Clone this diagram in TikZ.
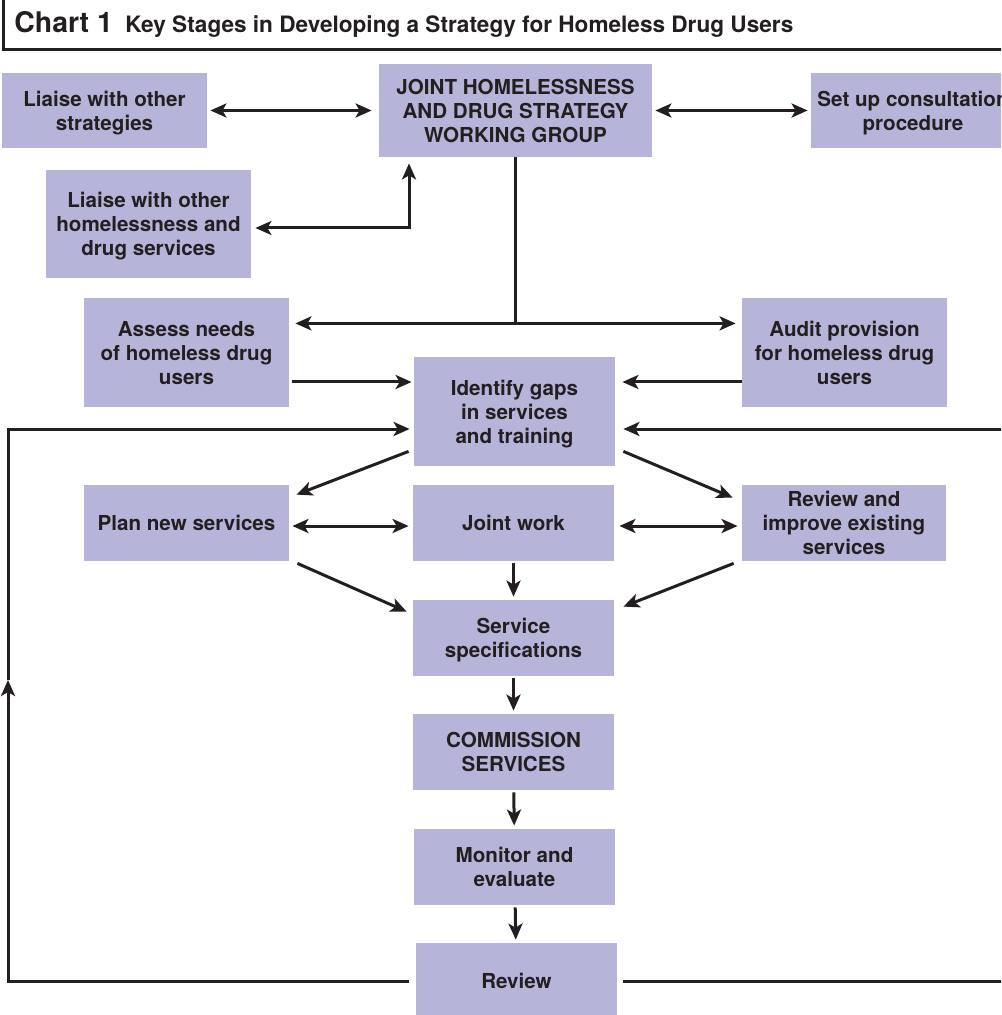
\documentclass[tikz,border=0pt]{standalone}
\usepackage{fontspec}
\setmainfont{TeX Gyre Heros}
\usetikzlibrary{arrows.meta,calc}

\definecolor{boxfill}{RGB}{182,181,217}
\definecolor{ink}{RGB}{35,31,32}

\tikzset{
	stage/.style 2 args={fill=boxfill, inner sep=0pt, align=center, text=ink,
		text depth=0pt, font=\fontsize{10.3}{12}\selectfont\bfseries,
		minimum width=#1*0.5pt, minimum height=#2*0.5pt},
	link/.style={draw=ink, line width=1.5pt},
	arr/.style={link, -{Stealth[length=8pt,width=7pt,inset=2pt]}},
	biarr/.style={link, {Stealth[length=8pt,width=7pt,inset=2pt]}-{Stealth[length=8pt,width=7pt,inset=2pt]}}
}

\begin{document}
\begin{tikzpicture}[x=0.5pt,y=-0.5pt]

\path[use as bounding box, clip] (0,0) rectangle (1001,1015);

% title bar
\draw[draw=ink, line width=1.5pt] (3,-5)--(3,50)--(1012,50);
\node[anchor=base west, inner sep=0pt, text=ink, font=\fontsize{14.2}{16}\selectfont\bfseries] (chart) at (14,33) {Chart 1};
\node[anchor=base west, inner sep=0pt, text=ink, font=\fontsize{11.3}{13}\selectfont\bfseries] (heading) at (125,33) {Key Stages in Developing a Strategy for Homeless Drug Users};

% stages
\node[stage={205}{75}] (strat) at (104.5,110.5) {Liaise with other\\strategies};
\node[stage={273}{93}] (jwg) at (515.5,110.5) {JOINT HOMELESSNESS\\AND DRUG STRATEGY\\WORKING GROUP};
\node[stage={204}{75}] (consult) at (913,110.5) {Set up consultation\\procedure};
\node[stage={205}{108}] (lsv) at (148.5,224) {Liaise with other\\homelessness and\\drug services};
\node[stage={205}{109}] (assess) at (186.5,352.5) {Assess needs\\of homeless drug\\users};
\node[stage={205}{109}] (audit) at (844.5,352.5) {Audit provision\\for homeless drug\\users};
\node[stage={201}{109}] (gaps) at (514.5,411.5) {Identify gaps\\in services\\and training};
\node[stage={205}{76}] (plan) at (186.5,523) {Plan new services};
\node[stage={201}{76}] (jointwork) at (513.5,523) {Joint work};
\node[stage={204}{76}] (improve) at (844,523) {Review and\\improve existing\\services};
\node[stage={201}{76}] (spec) at (513.5,638) {Service\\specifications};
\node[stage={201}{76}] (commission) at (513.5,752) {COMMISSION\\SERVICES};
\node[stage={201}{76}] (monitor) at (514.5,867) {Monitor and\\evaluate};
\node[stage={201}{76}] (review) at (516.5,981) {Review};

% top row
\draw[biarr, shorten <=1.5pt, shorten >=3.5pt] (strat) -- (jwg);
\draw[biarr, shorten <=1.5pt, shorten >=1.5pt] (jwg) -- (consult);
\draw[biarr, shorten <=3pt, shorten >=2pt] ($(jwg.south)+(-106.5,0)$) |- ($(lsv.east)+(0,4)$);

% split to assess and audit
\coordinate (split) at ($(jwg.south)+(0,166)$);
\draw[link] (jwg) -- (split);
\draw[arr, shorten >=3pt] (split) -- (split -| assess.east);
\draw[arr, shorten >=3pt] (split) -- (split -| audit.west);

\draw[arr] ($(assess.east)+(3,29.5)$) -- ($(gaps.west)+(-2,-29.5)$);
\draw[arr] ($(audit.west)+(0,29.5)$) -- ($(gaps.east)+(7,-29.5)$);

% middle
\draw[arr] ($(gaps.south west)+(-5,-15)$) -- ($(plan.north east)+(7,10)$);
\draw[arr] ($(gaps.south east)+(8,-15)$) -- ($(improve.north west)+(-9,13)$);
\draw[biarr] ($(plan.east)+(3,3)$) -- ($(jointwork.west)+(-4,3)$);
\draw[biarr] ($(jointwork.east)+(5,3)$) -- ($(improve.west)+(-4,3)$);
\draw[arr] ($(plan.south east)+(8,2)$) -- ($(spec.north west)+(-6,12)$);
\draw[arr] ($(improve.south west)+(-8,2)$) -- ($(spec.north east)+(9,7)$);

\foreach \a/\b in {jointwork/spec, spec/commission, commission/monitor, monitor/review}{
	\draw[arr, shorten <=1pt, shorten >=1.5pt] (\a) -- (\b);
}

% feedback loops
\coordinate (lbot) at (8,981);
\coordinate (lmid) at (8,680);
\coordinate (ltop) at (8,429);
\coordinate (rbot) at (1012,981);
\coordinate (rtop) at (1012,429);

\draw[arr] ($(review.west)+(-7,0)$) -- (lbot) -- (lmid);
\draw[arr] (lmid) -- (ltop) -- ($(gaps.west)+(-4,17.5)$);
\draw[arr] ($(review.east)+(6,0)$) -- (rbot) -- (rtop) -- ($(gaps.east)+(8,17.5)$);

\end{tikzpicture}
\end{document}
